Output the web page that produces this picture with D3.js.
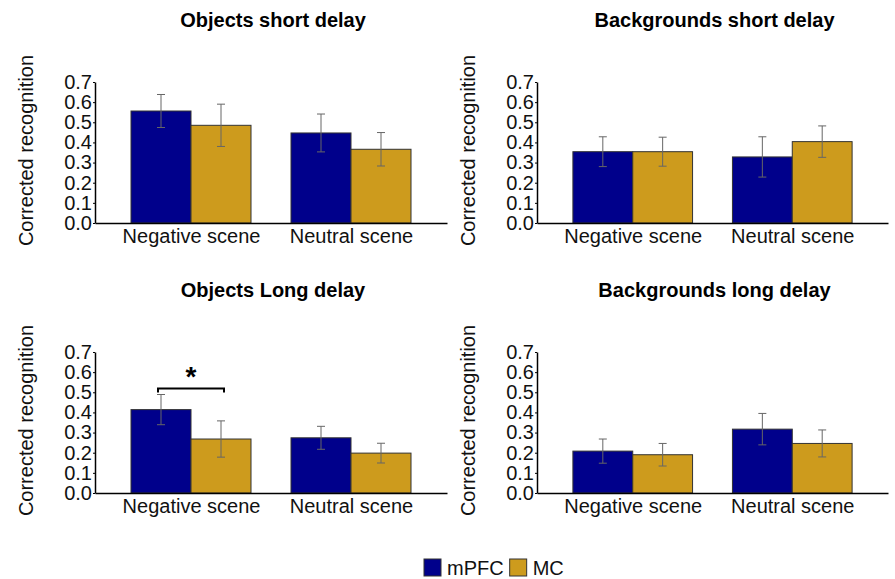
<!DOCTYPE html>
<html>
<head>
<meta charset="utf-8">
<script src="https://cdn.jsdelivr.net/npm/d3@7"></script>
<style>
  body { margin: 0; background: #fff; }
  svg { display: block; font-family: Arial, "Liberation Sans", sans-serif; }
</style>
</head>
<body>
<div id="chart"></div>
<script>
// 데이터
const categories = ['Negative scene', 'Neutral scene'];
const groups = ['mPFC', 'MC'];
const groupColors = ['#00008B', '#CD9B1D'];
const yTicks = [0, 0.1, 0.2, 0.3, 0.4, 0.5, 0.6, 0.7];

const panelTitles = ['Objects short delay', 'Backgrounds short delay', 'Objects Long delay', 'Backgrounds long delay'];

const objShortMean = { mPFC: [0.556, 0.447], MC: [0.485, 0.366] };
const objShortSE   = { mPFC: [0.082, 0.094], MC: [0.105, 0.083] };
const bgShortMean  = { mPFC: [0.354, 0.328], MC: [0.354, 0.404] };
const bgShortSE    = { mPFC: [0.074, 0.100], MC: [0.072, 0.078] };
const objLongMean  = { mPFC: [0.414, 0.274], MC: [0.268, 0.198] };
const objLongSE    = { mPFC: [0.075, 0.057], MC: [0.090, 0.049] };
const bgLongMean   = { mPFC: [0.208, 0.317], MC: [0.190, 0.246] };
const bgLongSE     = { mPFC: [0.060, 0.078], MC: [0.056, 0.067] };

// 유의성 표시 (Objects Long delay, Negative scene)
const sigBracket = { panel: 2, category: 'Negative scene', level: 0.519, label: '*' };

const panelMeans = [objShortMean, bgShortMean, objLongMean, bgLongMean];
const panelSEs = [objShortSE, bgShortSE, objLongSE, bgLongSE];

const W = 895, H = 579;
const svg = d3.select('#chart').append('svg').attr('width', W).attr('height', H);

// 패널 위치
const panelLayout = [
    { x0: 95, x1: 447, yTop: 82, yBot: 223, titleY: 27 },
    { x0: 537, x1: 888, yTop: 82, yBot: 223, titleY: 27 },
    { x0: 95, x1: 447, yTop: 352, yBot: 493, titleY: 297 },
    { x0: 537, x1: 888, yTop: 352, yBot: 493, titleY: 297 }
];

panelLayout.forEach((p, i) => {
    const g = svg.append('g');
    const means = panelMeans[i];
    const ses = panelSEs[i];

    const x = d3.scalePoint().domain(categories).range([p.x0, p.x1]).padding(0.6);
    const step = x.step();
    const xInner = d3.scaleBand().domain(groups).range([-0.375 * step, 0.375 * step]);
    const y = d3.scaleLinear().domain([0, 0.7]).range([p.yBot, p.yTop]);

    // 제목
    g.append('text')
        .attr('x', (p.x0 + p.x1) / 2 + 2)
        .attr('y', p.titleY)
        .attr('text-anchor', 'middle')
        .attr('font-size', 20)
        .attr('font-weight', 'bold')
        .text(panelTitles[i]);

    // 막대
    const rows = [];
    categories.forEach((c, ci) => {
        groups.forEach((gr, gi) => {
            rows.push({ cat: c, group: gr, gi: gi, mean: means[gr][ci], se: ses[gr][ci] });
        });
    });

    g.selectAll('.bar')
        .data(rows)
        .enter().append('rect')
        .attr('class', 'bar')
        .attr('x', d => x(d.cat) + xInner(d.group))
        .attr('y', d => y(d.mean))
        .attr('width', xInner.bandwidth())
        .attr('height', d => y(0) - y(d.mean))
        .attr('fill', d => groupColors[d.gi])
        .attr('stroke', '#333')
        .attr('stroke-width', 1);

    // 오차 막대
    const cap = 4;
    const eb = g.selectAll('.err')
        .data(rows)
        .enter().append('g')
        .attr('class', 'err')
        .attr('stroke', '#666')
        .attr('stroke-width', 1);
    eb.append('line')
        .attr('x1', d => x(d.cat) + xInner(d.group) + xInner.bandwidth() / 2)
        .attr('x2', d => x(d.cat) + xInner(d.group) + xInner.bandwidth() / 2)
        .attr('y1', d => y(d.mean - d.se))
        .attr('y2', d => y(d.mean + d.se));
    [1, -1].forEach(s => {
        eb.append('line')
            .attr('x1', d => x(d.cat) + xInner(d.group) + xInner.bandwidth() / 2 - cap)
            .attr('x2', d => x(d.cat) + xInner(d.group) + xInner.bandwidth() / 2 + cap)
            .attr('y1', d => y(d.mean + s * d.se))
            .attr('y2', d => y(d.mean + s * d.se));
    });

    // y축
    const yAxis = d3.axisLeft(y).tickValues(yTicks).tickFormat(d3.format('.1f')).tickSizeInner(2).tickSizeOuter(0).tickPadding(1);
    const ya = g.append('g').attr('transform', `translate(${p.x0},0)`).call(yAxis);
    ya.select('.domain').attr('stroke', '#000').attr('stroke-width', 1.5);
    ya.selectAll('.tick line').attr('stroke', '#000');
    ya.selectAll('text').attr('font-size', 20).attr('fill', '#111').attr('font-family', 'Arial, "Liberation Sans", sans-serif');

    // x축
    const xAxis = d3.axisBottom(x).tickSize(0).tickPadding(6);
    const xa = g.append('g').attr('transform', `translate(0,${p.yBot})`).call(xAxis);
    xa.select('.domain').attr('stroke', '#000').attr('stroke-width', 1.5);
    xa.selectAll('text').attr('font-size', 20).attr('fill', '#111').attr('font-family', 'Arial, "Liberation Sans", sans-serif');

    // y축 제목
    g.append('text')
        .attr('transform', `translate(${p.x0 - 62},${(p.yTop + p.yBot) / 2 - 2}) rotate(-90)`)
        .attr('text-anchor', 'middle')
        .attr('font-size', 20)
        .attr('fill', '#111')
        .text('Corrected recognition');

    // 유의성 브래킷
    if (sigBracket.panel === i) {
        const cx = x(sigBracket.category);
        const xl = cx + xInner(groups[0]) + xInner.bandwidth() / 2 - 3;
        const xr = cx + xInner(groups[1]) + xInner.bandwidth() / 2 + 3;
        const yb = y(sigBracket.level);
        g.append('path')
            .attr('d', `M${xl},${yb + 4}V${yb}H${xr}V${yb + 4}`)
            .attr('fill', 'none')
            .attr('stroke', '#000')
            .attr('stroke-width', 2);
        g.append('text')
            .attr('x', (xl + xr) / 2)
            .attr('y', yb - 2)
            .attr('text-anchor', 'middle')
            .attr('font-size', 28)
            .attr('font-weight', 'bold')
            .text(sigBracket.label);
    }
});

// 범례
const legend = svg.append('g').attr('transform', 'translate(424,559)');
let lx = 0;
groups.forEach((gr, gi) => {
    legend.append('rect')
        .attr('x', lx).attr('y', 0)
        .attr('width', 17).attr('height', 17)
        .attr('fill', groupColors[gi])
        .attr('stroke', '#333');
    const t = legend.append('text')
        .attr('x', lx + 23).attr('y', 16)
        .attr('font-size', 20)
        .attr('fill', '#111')
        .text(gr);
    lx += 23 + t.node().getComputedTextLength() + 6;
});
</script>
</body>
</html>
